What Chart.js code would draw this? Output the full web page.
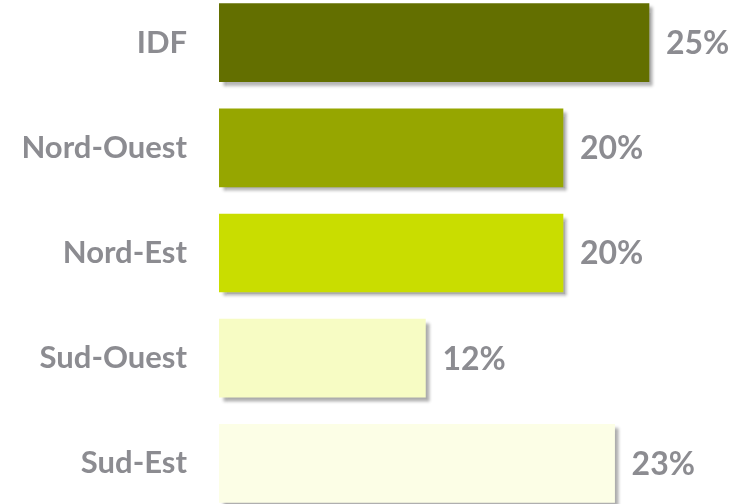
<!DOCTYPE html>
<html>
<head>
<meta charset="utf-8">
<script src="https://cdn.jsdelivr.net/npm/chart.js@4/dist/chart.umd.min.js"></script>
<style>
  html, body { margin: 0; padding: 0; background: #ffffff; overflow: hidden; width: 748px; height: 504px; }
  #wrap { position: absolute; left: 0; top: -10px; width: 748px; height: 526px; }
</style>
</head>
<body>
<div id="wrap"><canvas id="c"></canvas></div>
<script>
const categories = ["IDF", "Nord-Ouest", "Nord-Est", "Sud-Ouest", "Sud-Est"];
const values = [25, 20, 20, 12, 23];
const barColors = ["#636f00", "#96a600", "#c9dd00", "#f7fcc4", "#fcfee6"];
const valueLabels = ["25%", "20%", "20%", "12%", "23%"];

const textColor = "#8c8c91";
const fontFamily = "Lato, 'Open Sans', sans-serif";

const shadowPlugin = {
  id: "barShadow",
  beforeDatasetDraw(chart) {
    const ctx = chart.ctx;
    ctx.save();
    ctx.shadowColor = "rgba(0,0,0,0.32)";
    ctx.shadowBlur = 3;
    ctx.shadowOffsetX = 4;
    ctx.shadowOffsetY = 4;
  },
  afterDatasetDraw(chart) {
    chart.ctx.restore();
  }
};

const valueLabelPlugin = {
  id: "valueLabels",
  afterDatasetsDraw(chart) {
    const ctx = chart.ctx;
    const meta = chart.getDatasetMeta(0);
    ctx.save();
    ctx.font = "bold 32px " + fontFamily;
    ctx.fillStyle = textColor;
    ctx.textAlign = "left";
    ctx.textBaseline = "middle";
    meta.data.forEach((bar, i) => {
      ctx.fillText(valueLabels[i], bar.x + 17, bar.y + 1);
    });
    ctx.restore();
  }
};

new Chart(document.getElementById("c"), {
  type: "bar",
  data: {
    labels: categories,
    datasets: [{
      data: values,
      backgroundColor: barColors,
      borderWidth: 0,
      barThickness: 78
    }]
  },
  options: {
    indexAxis: "y",
    responsive: true,
    maintainAspectRatio: false,
    animation: false,
    layout: { padding: { left: 0, right: 13, top: 0, bottom: 0 } },
    plugins: {
      legend: { display: false },
      tooltip: { enabled: false }
    },
    scales: {
      x: {
        min: 0,
        max: 30,
        display: false
      },
      y: {
        afterFit(scale) {
          scale.width = 219;
          scale.paddingTop = 0;
          scale.paddingBottom = 0;
        },
        grid: { display: false, drawTicks: false },
        border: { display: false },
        ticks: {
          padding: 32,
          color: textColor,
          font: { family: fontFamily, weight: "bold", size: 31 }
        }
      }
    }
  },
  plugins: [shadowPlugin, valueLabelPlugin]
});
</script>
</body>
</html>
